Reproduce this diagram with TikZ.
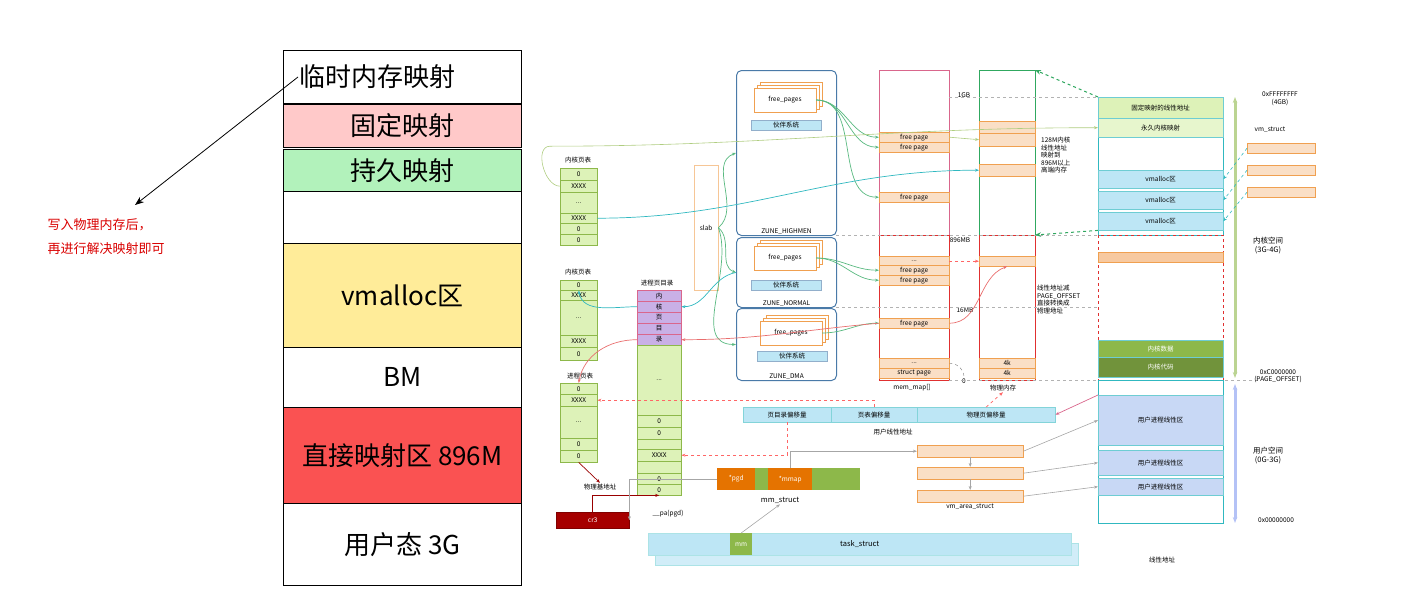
\documentclass[tikz,border=0pt]{standalone}
\usepackage{fontspec}
\setmainfont{Noto Sans CJK SC}
\usetikzlibrary{arrows.meta,positioning}
\definecolor{cellgreen}{HTML}{DDF2B8}
\definecolor{cellline}{HTML}{8DB84A}
\definecolor{zoneblue}{HTML}{4A7AA8}
\definecolor{barblue}{HTML}{BDE6F5}
\definecolor{pgorange}{HTML}{F7C9A0}
\definecolor{pgline}{HTML}{F0A050}
\definecolor{dirpurple}{HTML}{C9B0E6}
\definecolor{memred}{HTML}{E03030}
\definecolor{memgreen}{HTML}{30A860}
\definecolor{teal}{HTML}{30B8C0}
\definecolor{userblue}{HTML}{C8D8F5}
\newcommand{\sm}{\fontsize{6.5}{7.5}\selectfont}
\newcommand{\dd}{...}
\begin{document}
\begin{tikzpicture}[x=1pt,y=-1pt,
  lay/.style={draw=black, line width=0.8pt, minimum width=238pt, inner sep=0pt, anchor=north west, font=\fontsize{26}{28}\selectfont},
  cell/.style={draw=cellline, fill=cellgreen, minimum width=37pt, inner sep=0pt, anchor=north west, font=\sm},
  dcell/.style={cell, draw=purple!60, fill=dirpurple, minimum width=44pt},
  zone/.style={draw=zoneblue, line width=1pt, rounded corners=5pt, minimum width=100pt, anchor=north west, inner sep=0pt},
  buddy/.style={draw=zoneblue!60, fill=barblue, minimum width=70pt, minimum height=10pt, inner sep=0pt, font=\sm},
  free/.style={draw=pgline, fill=white, minimum width=62pt, minimum height=24pt, inner sep=0pt, font=\sm},
  fp/.style={draw=pgline, fill=pgorange!60, minimum width=70pt, minimum height=10pt, inner sep=0pt, anchor=north west, font=\sm},
  lin/.style={draw=teal!70, minimum width=125pt, inner sep=0pt, anchor=north west, font=\sm},
  lbl/.style={font=\sm, inner sep=1pt},
  grn/.style={-{Stealth[length=4pt]}, draw=memgreen!80, line width=0.7pt},
  blu/.style={-{Stealth[length=4pt]}, draw=teal, line width=0.7pt},
  rd/.style={-{Stealth[length=4pt]}, draw=red!60!black, line width=0.7pt},
  rdd/.style={rd, dashed, draw=red!60},
  gry/.style={-{Stealth[length=4pt]}, draw=gray!70, line width=0.6pt}]
\useasboundingbox (0,0) rectangle (1428,613);

% left column
\node[lay, minimum height=53pt] (tmp) at (283,50) {};
\node[font=\fontsize{26}{28}\selectfont, anchor=west, inner sep=1pt] (tmpt) at (298,77) {临时内存映射};
\node[lay, fill={rgb,255:red,255;green,201;blue,201}, minimum height=43pt] (fix) at (283,104) {固定映射};
\node[lay, fill={rgb,255:red,178;green,242;blue,187}, minimum height=42pt] (perm) at (283,149) {持久映射};
\node[lay, minimum height=52pt] (gap) at (283,191) {};
\node[lay, fill={rgb,255:red,255;green,236;blue,153}, minimum height=104pt] (vm) at (283,243) {vmalloc区};
\node[lay, minimum height=60pt] (bm) at (283,347) {BM};
\node[lay, fill={rgb,255:red,250;green,82;blue,82}, minimum height=96pt] (dir) at (283,407) {直接映射区 896M};
\node[lay, minimum height=82pt] (usr) at (283,503) {用户态 3G};
\coordinate (note) at (135,205);
\draw[-{Stealth[length=9pt]}, line width=0.8pt] (tmpt.west) -- (note);
\node[anchor=north west, text=red!85!black, font=\fontsize{13}{24}\selectfont, align=left] (hint) at (44,215) {写入物理内存后，\\再进行解决映射即可};

% kernel page tables
\node[lbl] (kt1) at (578,160) {内核页表};
\foreach \t/\y/\h [count=\i] in {0/168/12, XXXX/180/12, \dd/192/21, XXXX/213/10, 0/223/11, 0/234/11}
  \node[cell, minimum height=\h pt] (ka\i) at (560,\y) {\t};
\node[lbl] (kt2) at (578,272) {内核页表};
\foreach \t/\y/\h [count=\i] in {0/280/10, XXXX/290/10, \dd/300/35, XXXX/335/12, 0/347/13}
  \node[cell, minimum height=\h pt] (kb\i) at (560,\y) {\t};
\node[lbl] (pt) at (580,376) {进程页表};
\foreach \t/\y/\h [count=\i] in {0/383/11, XXXX/394/12, \dd/406/32, 0/438/12, 0/450/12}
  \node[cell, minimum height=\h pt] (pc\i) at (560,\y) {\t};
\node[lbl] (pbase) at (600,487) {物理基地址};

% process page directory
\node[lbl] (pdt) at (657,283) {进程页目录};
\foreach \t [count=\i] in {内,核,页,目,录}
  \node[dcell, minimum height=11pt] (pd\i) at (637,{279+11*\i}) {\t};
\foreach \t/\y/\h [count=\i] in {\dd/345/70, 0/415/12, 0/427/12, /439/10, XXXX/449/12, /461/12, 0/473/11, 0/484/11}
  \node[cell, minimum width=44pt, minimum height=\h pt] (pe\i) at (637,\y) {\t};

% cr3
\node[draw=red!50!black, fill=red!65!black, text=white, minimum width=73pt, minimum height=16pt, inner sep=0pt, anchor=north west, font=\sm] (cr3) at (556,512) {cr3};
\node[lbl] (pa) at (668,514) {\_\_pa(pgd)};

% slab
\node[draw=pgline!60, minimum width=24pt, minimum height=125pt, anchor=north west, inner sep=0pt, font=\sm] (slab) at (694,165) {slab};

% zones
\node[zone, minimum height=165pt] (zh) at (736,70) {};
\node[zone, minimum height=70pt] (zn) at (736,237) {};
\node[zone, minimum height=72pt] (zd) at (736,308) {};
\node[lbl, anchor=south] (zht) at (zh.south) {ZUNE\_HIGHMEN};
\node[lbl, anchor=south] (znt) at (zn.south) {ZUNE\_NORMAL};
\node[lbl, anchor=south] (zdt) at (zd.south) {ZUNE\_DMA};
\foreach \z/\y/\dx in {h/100/0, n/258/0, d/333/6} {
  \node[free] (f\z3) at (791+\dx,{\y-6}) {};
  \node[free] (f\z2) at (788+\dx,{\y-3}) {};
  \node[free] (f\z) at (785+\dx,\y) {free\_pages};
}
\node[buddy] (bh) at (786,125) {伙伴系统};
\node[buddy] (bn) at (786,285) {伙伴系统};
\node[buddy] (bd) at (792,356) {伙伴系统};

% mem_map
\draw[draw=purple!60, line width=1pt] (879,70) rectangle (949,235);
\draw[draw=memred, line width=1pt] (879,235) rectangle (949,380);
\foreach \t/\y [count=\i] in {free page/132, free page/142, free page/192, \dd/256, free page/265, free page/275, free page/318, \dd/358, struct page/368}
  \node[fp] (m\i) at (879,\y) {\t};
\node[lbl] (mmt) at (912,388) {mem\_map[]};

% physical memory
\draw[draw=memgreen, line width=1pt] (979,70) rectangle (1035,235);
\draw[draw=memred, line width=1pt] (979,235) rectangle (1035,380);
\foreach \t/\y/\h [count=\i] in {/121/12, /133/13, /164/12, /256/10, 4k/358/10, 4k/368/10}
  \node[fp, minimum width=56pt, minimum height=\h pt] (p\i) at (979,\y) {\t};
\node[lbl] (pmt) at (1003,388) {物理内存};
\node[lbl] (g1) at (964,95) {1GB};
\node[lbl] (g896) at (960,240) {896MB};
\node[lbl] (g16) at (965,310) {16MB};
\node[lbl] (g0) at (964,381) {0};
\node[lbl, align=left, anchor=north west] (hi) at (1040,136) {128M内核\\线性地址\\映射到\\896M以上\\高端内存};
\node[lbl, align=left, anchor=north west] (lo) at (1036,284) {线性地址减\\PAGE\_OFFSET\\直接转换成\\物理地址};
\draw[gray!60, dashed] (949,97) -- (1098,97);
\draw[gray!60, dashed] (836,235) -- (1098,235);
\draw[gray!60, dashed] (836,307) -- (1098,307);
\draw[gray!60, dashed] (949,380) -- (1260,380);

% linear address space
\draw[teal, line width=1pt] (1098,97) rectangle (1223,235);
\draw[memred, line width=1pt, dashed] (1098,235) rectangle (1223,380);
\draw[teal, line width=1pt] (1098,380) rectangle (1223,523);
\node[lin, fill=cellgreen, minimum height=21pt] (l1) at (1098,97) {固定映射的线性地址};
\node[lin, fill=cellgreen!70, minimum height=19pt] (l2) at (1098,118) {永久内核映射};
\foreach \y [count=\i] in {170,191,212}
  \node[lin, fill=barblue, minimum height=18pt] (va\i) at (1098,\y) {vmalloc区};
\node[lin, draw=pgline, fill=pgorange, minimum height=10pt] (l3) at (1098,252) {};
\node[lin, fill=cellline, text=white, minimum height=17pt] (kd) at (1098,340) {内核数据};
\node[lin, fill=cellline!80!black, text=white, minimum height=20pt] (kc) at (1098,357) {内核代码};
\node[lin, fill=userblue, minimum height=50pt] (u1) at (1098,395) {用户进程线性区};
\node[lin, fill=userblue, minimum height=25pt] (u2) at (1098,450) {用户进程线性区};
\node[lin, fill=userblue, minimum height=17pt] (u3) at (1098,478) {用户进程线性区};
\node[lbl] (linl) at (1162,560) {线性地址};

% right labels
\node[lbl, align=center] (a4) at (1280,99) {0xFFFFFFFF\\(4GB)};
\node[lbl] (vms) at (1270,130) {vm\_struct};
\foreach \y [count=\i] in {143,165,187}
  \node[fp, minimum width=68pt] (vs\i) at (1247,\y) {};
\node[lbl, align=center, font=\fontsize{7.5}{9}\selectfont] (ks) at (1268,246) {内核空间\\(3G-4G)};
\node[lbl, align=center] (a3) at (1278,376) {0xC0000000\\(PAGE\_OFFSET)};
\node[lbl, align=center, font=\fontsize{7.5}{9}\selectfont] (us) at (1268,456) {用户空间\\(0G-3G)};
\node[lbl] (a0) at (1276,520) {0x00000000};
\coordinate (kt) at (1235,97);
\coordinate (kb) at (1235,378);
\coordinate (ut) at (1235,384);
\coordinate (ub) at (1235,523);
\draw[{Stealth[length=6pt]}-{Stealth[length=6pt]}, draw=cellline!60, line width=3pt] (kt) -- (kb);
\draw[{Stealth[length=6pt]}-{Stealth[length=6pt]}, draw=userblue!90!blue, line width=3pt] (ut) -- (ub);

% user linear address and structs
\node[draw=teal!60, fill=barblue, minimum width=88pt, minimum height=15pt, inner sep=0pt, anchor=north west, font=\sm] (o1) at (743,407) {页目录偏移量};
\node[draw=teal!60, fill=barblue, minimum width=86pt, minimum height=15pt, inner sep=0pt, anchor=north west, font=\sm] (o2) at (831,407) {页表偏移量};
\node[draw=teal!60, fill=barblue, minimum width=138pt, minimum height=15pt, inner sep=0pt, anchor=north west, font=\sm] (o3) at (917,407) {物理页偏移量};
\node[lbl] (ula) at (893,432) {用户线性地址};
\node[fill=orange!90!black, text=white, minimum width=38pt, minimum height=22pt, inner sep=0pt, anchor=north west, font=\sm] (pgd) at (717,468) {*pgd};
\node[fill=cellline, minimum width=13pt, minimum height=22pt, inner sep=0pt, anchor=north west] (mg1) at (755,468) {};
\node[fill=orange!90!black, text=white, minimum width=44pt, minimum height=22pt, inner sep=0pt, anchor=north west, font=\sm] (mmap) at (768,468) {*mmap};
\node[fill=cellline, minimum width=48pt, minimum height=22pt, inner sep=0pt, anchor=north west] (mg2) at (812,468) {};
\node[lbl, font=\fontsize{7.5}{8}\selectfont] (mms) at (780,500) {mm\_struct};
\foreach \y [count=\i] in {445,467,490}
  \node[fp, minimum width=106pt, minimum height=12pt] (vma\i) at (917,\y) {};
\node[lbl] (vmat) at (970,507) {vm\_area\_struct};
\node[draw=teal!40, fill=barblue!70, minimum width=423pt, minimum height=22pt, anchor=north west, inner sep=0pt] (ts2) at (655,543) {};
\node[draw=teal!40, fill=barblue, minimum width=423pt, minimum height=22pt, anchor=north west, inner sep=0pt, font=\fontsize{7.5}{8}\selectfont] (ts) at (648,533) {task\_struct};
\node[fill=cellline, text=white, minimum width=22pt, minimum height=22pt, inner sep=0pt, anchor=north west, font=\sm] (mm) at (730,533) {mm};

% connectors
\foreach \m in {m1,m2,m3} \draw[grn] (fh.east) to[out=0, in=180] (\m.west);
\foreach \m in {m5,m6} \draw[grn] (fn.east) to[out=0, in=180] (\m.west);
\draw[grn] (fd.east) to[out=0, in=180] (m7.west);
\draw[grn] (slab.east) to[out=40, in=200] (zh.west);
\draw[grn] (slab.east) to[out=-40, in=160] (zn.west);
\draw[grn] (slab.east) to[out=-70, in=180] (zd.west);
\draw[gry, draw=cellline!70] (m1.east) -- (p2.west);
\draw[blu] (ka4.east) to[out=0, in=180] (p3.west);
\draw[blu] (zn.west) to[out=190, in=0] (pd2.east);
\draw[blu] (pd2.west) to[out=180, in=-80] (kb1.south);
\draw[gry, draw=cellline!70] (ka2.west) to[out=180, in=180] ++(-10,-40) to[out=0, in=180] (l2.west);
\draw[rd, draw=memred!70] (pd5.west) to[out=180, in=80] (pc1.north);
\draw[rd, draw=memred!70] (m7.east) to[out=0, in=200] (p4.south);
\draw[rdd] (m4.east) -- (p4.west);
\draw[rd, draw=memred!70] (m7.west) to[out=185, in=0] (pd5.east);
\draw[gray, dashed] (m8.east) to[out=0, in=90] (g0.north);
\draw[-{Stealth[length=6pt]}, dashed, draw=memgreen, line width=1pt] (l1.north west) -- (1035,70);
\draw[-{Stealth[length=6pt]}, dashed, draw=memgreen, line width=1pt] (va3.south west) -- (1035,235);
\foreach \i in {1,2,3} \draw[gry, dashed, draw=teal] (vs\i.west) -- (va\i.east);
\draw[rdd] (o1.south) |- (pe5.east);
\draw[rdd] (o2.north) |- (pc2.east);
\draw[rdd] (o3.north) -- (pmt.south);
\draw[rd, draw=purple!60] (u1.north west) -- (o3.east);
\draw[rd] (pc5.south) -- (pbase.north);
\draw[rd] (cr3.north) |- (pe8.south);
\draw[gry] (pgd.west) -| (cr3.east);
\draw[gry] (mm.north) -- (mms.south);
\draw[gry] (mmap.north) |- (vma1.west);
\foreach \i in {1,2,3} \draw[gry] (vma\i.east) -- (u\i.west);
\draw[gry] (vma1.south) -- (vma2.north);
\draw[gry] (vma2.south) -- (vma3.north);
\end{tikzpicture}
\end{document}
